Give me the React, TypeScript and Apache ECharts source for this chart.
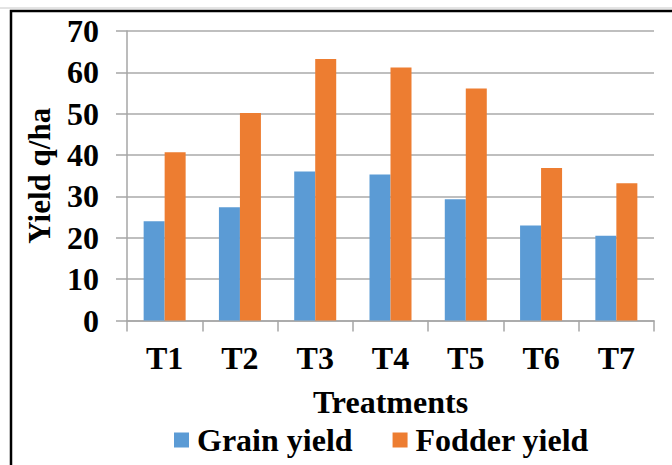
import React, { useEffect, useRef } from "react";
import * as echarts from "echarts";

const categories = ["T1", "T2", "T3", "T4", "T5", "T6", "T7"];
const grainYield = [24.0, 27.4, 36.0, 35.3, 29.3, 23.0, 20.5];
const fodderYield = [40.7, 50.2, 63.2, 61.2, 56.1, 36.9, 33.2];
const seriesNames = ["Grain yield", "Fodder yield"];
const xAxisTitle = "Treatments";
const yAxisTitle = "Yield q/ha";

const FONT = "Liberation Serif";

export default function App() {
  const ref = useRef<HTMLDivElement>(null);
  useEffect(() => {
    if (!ref.current) return;
    const chart = echarts.init(ref.current, null, { renderer: "svg" });
    chart.setOption({
      animation: false,
      backgroundColor: "#ffffff",
      textStyle: { fontFamily: FONT },
      grid: { left: 127, right: 18, top: 31, bottom: 144.5 },
      legend: {
        top: 424,
        left: 174,
        padding: 0,
        itemWidth: 15,
        itemHeight: 15,
        itemGap: 40,
        icon: "rect",
        textStyle: {
          fontFamily: FONT,
          fontWeight: "bold",
          fontSize: 32,
          color: "#000",
          padding: [0, 0, 0, 3],
        },
        data: seriesNames,
      },
      xAxis: {
        type: "category",
        data: categories,
        name: xAxisTitle,
        nameLocation: "middle",
        nameGap: 65,
        nameTextStyle: { fontFamily: FONT, fontWeight: "bold", fontSize: 32, color: "#000" },
        axisLine: { show: true, lineStyle: { color: "#a6a6a6", width: 1.5 } },
        axisTick: { show: true, length: 11, lineStyle: { color: "#a6a6a6", width: 1.5 } },
        axisLabel: { margin: 21, fontFamily: FONT, fontWeight: "bold", fontSize: 32, color: "#000" },
      },
      yAxis: {
        type: "value",
        min: 0,
        max: 70,
        interval: 10,
        name: yAxisTitle,
        nameLocation: "middle",
        nameGap: 72,
        nameRotate: 90,
        nameTextStyle: { fontFamily: FONT, fontWeight: "bold", fontSize: 31, color: "#000" },
        axisLine: { show: true, lineStyle: { color: "#a6a6a6", width: 1.5 } },
        axisTick: { show: true, length: 11, lineStyle: { color: "#a6a6a6", width: 1.5 } },
        axisLabel: { margin: 28, fontFamily: FONT, fontWeight: "bold", fontSize: 32, color: "#000" },
        splitLine: { show: true, lineStyle: { color: "#aaaaaa", width: 1.5 } },
      },
      series: [
        {
          name: seriesNames[0],
          type: "bar",
          data: grainYield,
          barWidth: 21,
          barGap: "0%",
          itemStyle: { color: "#5B9BD5" },
        },
        {
          name: seriesNames[1],
          type: "bar",
          data: fodderYield,
          barWidth: 21,
          barGap: "0%",
          itemStyle: { color: "#ED7D31" },
        },
      ],
      graphic: [
        {
          type: "line",
          shape: { x1: 0, y1: 8, x2: 672, y2: 8 },
          style: { stroke: "#c8c8c8", lineWidth: 1 },
          silent: true,
        },
        {
          type: "rect",
          shape: { x: 11, y: 11, width: 800, height: 600 },
          style: { fill: "none", stroke: "#000", lineWidth: 2.5 },
          silent: true,
        },
      ],
    });
    return () => chart.dispose();
  }, []);
  return (
    <div
      ref={ref}
      style={{ position: "fixed", left: 0, top: 0, width: 672, height: 465 }}
    />
  );
}
